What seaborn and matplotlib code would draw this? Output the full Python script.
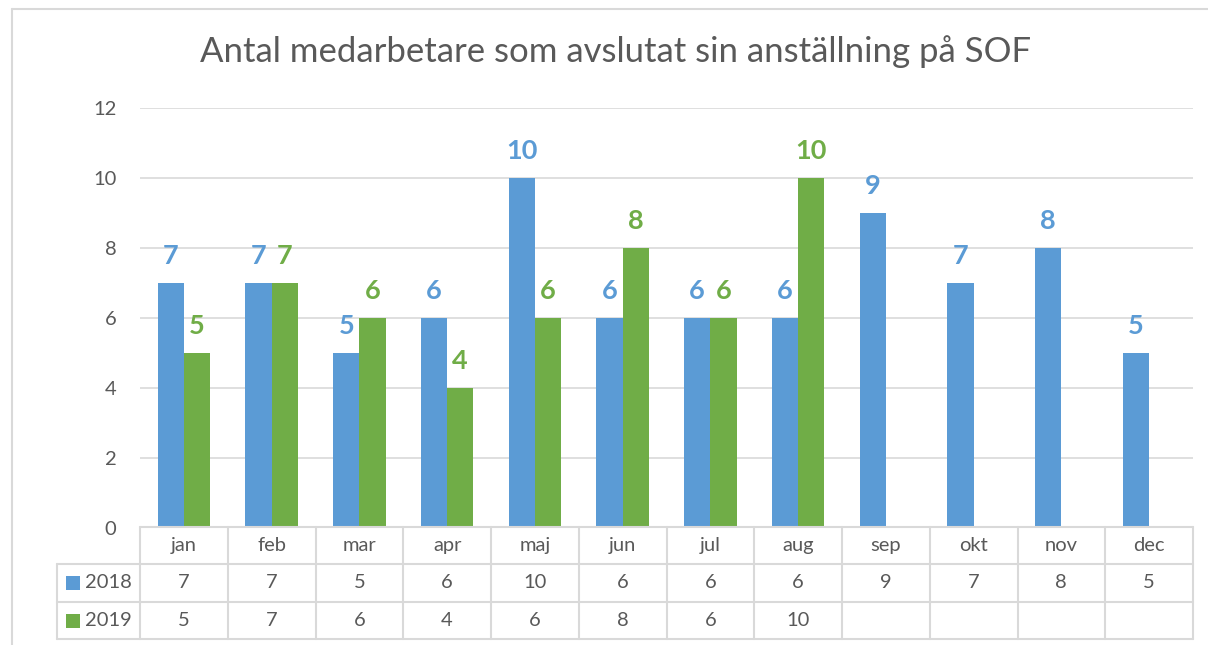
import matplotlib
matplotlib.use("Agg")
import matplotlib.pyplot as plt
import matplotlib.transforms as mtransforms
from matplotlib.lines import Line2D
from matplotlib.patches import Rectangle
import numpy as np
import pandas as pd
import seaborn as sns


TITLE = "Antal medarbetare som avslutat sin anställning på SOF"
MONTHS = ["jan", "feb", "mar", "apr", "maj", "jun", "jul", "aug", "sep", "okt", "nov", "dec"]
YEARS = ["2018", "2019"]
VALUES_2018 = [7, 7, 5, 6, 10, 6, 6, 6, 9, 7, 8, 5]
VALUES_2019 = [5, 7, 6, 4, 6, 8, 6, 10, None, None, None, None]
COLORS = {"2018": "#5B9BD5", "2019": "#70AD47"}

TEXT_COLOR = "#595959"
LINE_COLOR = "#D9D9D9"
W, H = 1208, 645


def build_frame():
    rows = []
    for year, values in zip(YEARS, [VALUES_2018, VALUES_2019]):
        for month, value in zip(MONTHS, values):
            rows.append({"month": month, "year": year, "value": value})
    return pd.DataFrame(rows)


def fx(px):
    return px / W


def fy(py):
    return 1 - py / H


def main():
    sns.set_theme(style="white")
    plt.rcParams["font.family"] = ["Lato", "DejaVu Sans"]

    df = build_frame().dropna()

    fig = plt.figure(figsize=(W / 100, H / 100), dpi=100)
    ax_left, ax_right, ax_top, ax_bottom = 140, 1193, 108, 528
    ax = fig.add_axes([fx(ax_left), fy(ax_bottom), fx(ax_right - ax_left), (ax_bottom - ax_top) / H])

    sns.barplot(
        data=df,
        x="month",
        y="value",
        hue="year",
        order=MONTHS,
        hue_order=YEARS,
        palette=COLORS,
        saturation=1,
        width=0.6,
        linewidth=0,
        errorbar=None,
        legend=False,
        ax=ax,
    )

    for container, year in zip(ax.containers, YEARS):
        ax.bar_label(
            container,
            fmt="%d",
            padding=11,
            color=COLORS[year],
            fontsize=19.5,
            fontweight="bold",
        )

    ax.set_xlim(-0.5, len(MONTHS) - 0.5)
    ax.set_ylim(0, 12)
    ax.set_yticks(np.arange(0, 13, 2))
    ax.tick_params(axis="y", length=0, pad=17, labelsize=14.5, labelcolor=TEXT_COLOR)
    ax.set_xticks([])
    ax.set_xlabel("")
    ax.set_ylabel("")
    for spine in ax.spines.values():
        spine.set_visible(False)
    for yv in range(2, 13, 2):
        ax.axhline(yv, color=LINE_COLOR, lw=1.2, zorder=0)

    # data table below the axis
    trans = mtransforms.blended_transform_factory(ax.transData, ax.transAxes)
    span = ax_bottom - ax_top

    def ay(py):
        return (ax_bottom - py) / span

    row_lines = [527, 564, 602, 639]
    left_x = (57 - ax_left) / ((ax_right - ax_left) / len(MONTHS)) - 0.5
    right_x = len(MONTHS) - 0.5

    ax.add_line(Line2D([-0.5, right_x], [ay(row_lines[0])] * 2, transform=trans,
                       color=LINE_COLOR, lw=1.5, clip_on=False))
    for py in row_lines[1:]:
        ax.add_line(Line2D([left_x, right_x], [ay(py)] * 2, transform=trans,
                           color=LINE_COLOR, lw=1.5, clip_on=False))
    ax.add_line(Line2D([left_x, left_x], [ay(row_lines[1]), ay(row_lines[3])], transform=trans,
                       color=LINE_COLOR, lw=1.5, clip_on=False))
    for i in range(len(MONTHS) + 1):
        ax.add_line(Line2D([i - 0.5, i - 0.5], [ay(row_lines[0]), ay(row_lines[3])], transform=trans,
                           color=LINE_COLOR, lw=1.5, clip_on=False))

    header_y = ay((row_lines[0] + row_lines[1]) / 2)
    for i, month in enumerate(MONTHS):
        ax.text(i, header_y, month, transform=trans, ha="center", va="center",
                fontsize=14.5, color=TEXT_COLOR)

    for r, (year, values) in enumerate(zip(YEARS, [VALUES_2018, VALUES_2019])):
        mid = ay((row_lines[r + 1] + row_lines[r + 2]) / 2)
        for i, value in enumerate(values):
            if value is None:
                continue
            ax.text(i, mid, str(value), transform=trans, ha="center", va="center",
                    fontsize=14.5, color=TEXT_COLOR)
        mid_px = (row_lines[r + 1] + row_lines[r + 2]) / 2
        fig.add_artist(Rectangle((fx(66), fy(mid_px + 7)), fx(14), 14 / H,
                                 facecolor=COLORS[year], edgecolor="none"))
        fig.text(fx(85), fy(mid_px), year, ha="left", va="center",
                 fontsize=14.5, color=TEXT_COLOR)

    # chart frame
    fig.add_artist(Line2D([fx(12), 1], [fy(9), fy(9)], color=LINE_COLOR, lw=1.5))
    fig.add_artist(Line2D([fx(12), fx(12)], [fy(9), 0], color=LINE_COLOR, lw=1.5))

    fig.text(fx(616), fy(52), TITLE, ha="center", va="center", fontsize=25, color=TEXT_COLOR)

    fig.savefig("out.png", dpi=100)
    plt.close(fig)


if __name__ == "__main__":
    main()
